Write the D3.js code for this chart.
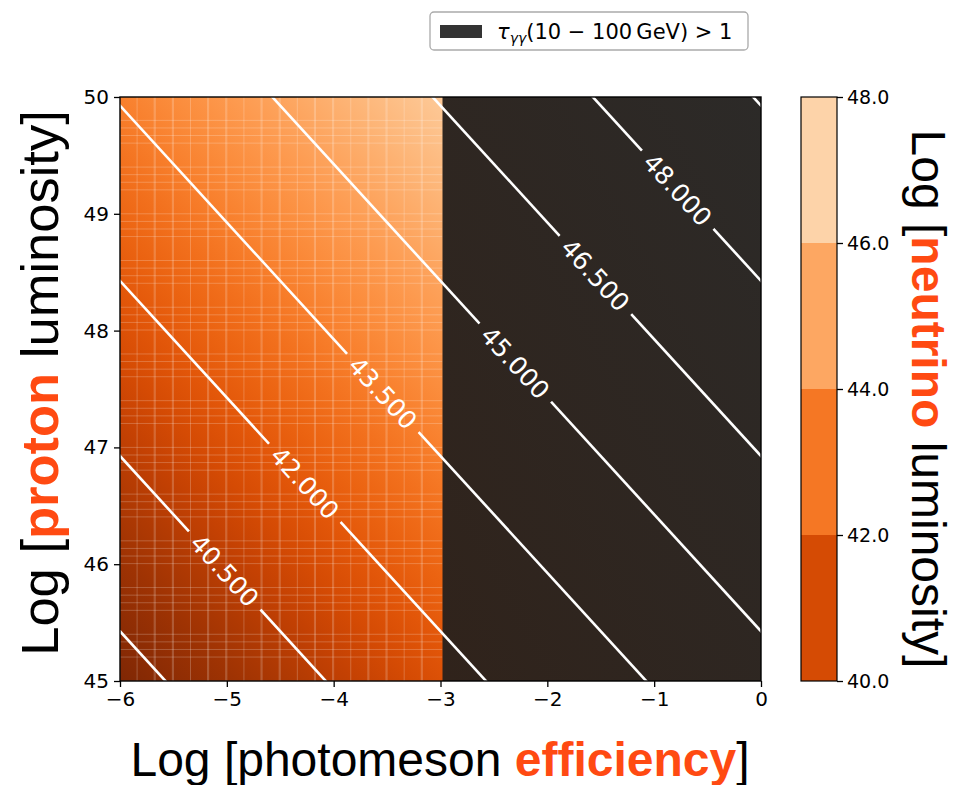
<!DOCTYPE html>
<html><head><meta charset="utf-8">
<script src="https://cdn.jsdelivr.net/npm/d3@7"></script>
<style>body{margin:0;background:#fff}svg{display:block}</style>
</head><body>
<svg id="c" width="959" height="785"></svg>
<script>
// ---- data ----
const xTicks = [-6, -5, -4, -3, -2, -1, 0];
const yTicks = [45, 46, 47, 48, 49, 50];
const cbTicks = [40, 42, 44, 46, 48];
const cbLevels = [40, 42, 44, 46, 48];
const contourLevels = [39, 40.5, 42, 43.5, 45, 46.5, 48, 49.5];
const labelledLevels = [40.5, 42, 43.5, 45, 46.5, 48];
const labelAtX = [-5.02, -4.27, -3.54, -2.30, -1.55, -0.78];
const offsetLog = -0.426;      // log(3/8): L_nu = f * L_p * 3/8
const opaqueFrom = -3;          // tau_gg > 1 for log efficiency > -3
const fieldRange = [38.57, 49.57];

const svg = d3.select("#c");
const L = 120, R = 761, T = 97, B = 681;
const x = d3.scaleLinear().domain([-6, 0]).range([L, R]);
const y = d3.scaleLinear().domain([45, 50]).range([B, T]);
const col = d3.scaleSequential(t => d3.interpolateOranges(1 - t)).domain(fieldRange);
const defs = svg.append("defs");

// field gradient (value depends on x+y)
const grad = defs.append("linearGradient").attr("id", "fg").attr("gradientUnits", "userSpaceOnUse");
const gx = 1 / (x(1) - x(0)), gy = -1 / (y(0) - y(1));
const gn = Math.hypot(gx, gy);
const ux = gx / gn, uy = gy / gn;
const p0 = [x(-6), y(45)];
const v0 = -6 + 45 + offsetLog;
const span = (fieldRange[1] - fieldRange[0]) / gn;
const startShift = (fieldRange[0] - v0) / gn;
grad.attr("x1", p0[0] + ux * startShift).attr("y1", p0[1] + uy * startShift)
    .attr("x2", p0[0] + ux * (startShift + span)).attr("y2", p0[1] + uy * (startShift + span));
d3.range(0, 1.0001, 0.05).forEach(t => {
  grad.append("stop").attr("offset", t).attr("stop-color", col(fieldRange[0] + t * (fieldRange[1] - fieldRange[0])));
});
const dg = defs.append("linearGradient").attr("id", "dg").attr("x1", 1).attr("y1", 0).attr("x2", 0).attr("y2", 1);
dg.append("stop").attr("offset", 0).attr("stop-color", "#2c2a28");
dg.append("stop").attr("offset", 1).attr("stop-color", "#30231b");

defs.append("clipPath").attr("id", "clip").append("rect")
  .attr("x", L).attr("y", T).attr("width", R - L).attr("height", B - T);

const plot = svg.append("g").attr("clip-path", "url(#clip)");
plot.append("rect").attr("x", x(-6)).attr("y", T).attr("width", R - L).attr("height", B - T)
  .attr("fill", "url(#fg)");

// faint mesh edge artefacts
const mesh = plot.append("g").attr("stroke", "#fff").attr("stroke-opacity", 0.22).attr("stroke-width", 1);
const vx = [], hy = [];
for (let i = 0; i < 40; i++) { const p = i * 0.1 + ((i * 7) % 5) * 0.03; if (p < 2.97) vx.push(-6 + p); }
for (let i = 0; i < 60; i++) { const p = i * 0.1 + ((i * 3) % 4) * 0.035; if (p < 5) hy.push(45 + p); }
vx.forEach(v => mesh.append("line").attr("x1", x(v)).attr("x2", x(v)).attr("y1", T).attr("y2", B));
hy.forEach(v => mesh.append("line").attr("x1", L).attr("x2", x(opaqueFrom) + 2).attr("y1", y(v)).attr("y2", y(v)));

plot.append("rect").attr("x", x(opaqueFrom) + 2).attr("y", T).attr("width", R - x(opaqueFrom)).attr("height", B - T)
  .attr("fill", "url(#dg)");

// contour lines with gaps at labels
const ang = Math.atan2(y(0) - y(1), x(1) - x(0)) * 180 / Math.PI;
const mask = defs.append("mask").attr("id", "lm").attr("maskUnits", "userSpaceOnUse")
  .attr("x", 0).attr("y", 0).attr("width", 959).attr("height", 785);
mask.append("rect").attr("width", 959).attr("height", 785).attr("fill", "#fff");
const labs = labelledLevels.map((lv, i) => {
  const xv = labelAtX[i];
  const yv = lv - offsetLog - xv;
  return {lv, px: x(xv), py: y(yv)};
});
labs.forEach(d => {
  mask.append("rect").attr("x", -53).attr("y", -14).attr("width", 106).attr("height", 28).attr("fill", "#000")
    .attr("transform", `translate(${d.px},${d.py}) rotate(${ang})`);
});
const lineG = plot.append("g").attr("mask", "url(#lm)");
contourLevels.forEach(lv => {
  const xa = -6.2, xb = 0.2;
  lineG.append("line")
    .attr("x1", x(xa)).attr("y1", y(lv - offsetLog - xa))
    .attr("x2", x(xb)).attr("y2", y(lv - offsetLog - xb))
    .attr("stroke", "#fff").attr("stroke-width", 2.6);
});
labs.forEach(d => {
  plot.append("text").attr("transform", `translate(${d.px},${d.py}) rotate(${ang})`)
    .attr("text-anchor", "middle").attr("dy", "0.36em")
    .attr("font-family", "DejaVu Sans").attr("font-size", 25).attr("fill", "#fff")
    .text(d3.format(".3f")(d.lv));
});

// frame
svg.append("rect").attr("x", L).attr("y", T).attr("width", R - L).attr("height", B - T)
  .attr("fill", "none").attr("stroke", "#000").attr("stroke-width", 1.4);

// axes
const fmtMinus = d => (d < 0 ? "\u2212" + Math.abs(d) : "" + d);
const ax = svg.append("g").attr("transform", `translate(0,${B})`)
  .call(d3.axisBottom(x).tickValues(xTicks).tickFormat(fmtMinus).tickSize(6).tickPadding(5));
const ay = svg.append("g").attr("transform", `translate(${L},0)`)
  .call(d3.axisLeft(y).tickValues(yTicks).tickFormat(d => d).tickSize(6).tickPadding(5));
[ax, ay].forEach(g => {
  g.select(".domain").remove();
  g.selectAll("line").attr("stroke", "#000").attr("stroke-width", 1.3);
  g.selectAll("text").attr("font-family", "DejaVu Sans").attr("font-size", 20).attr("fill", "#000");
});

// colorbar
const cbL = 801, cbW = 36;
const cy = d3.scaleLinear().domain([40, 48]).range([B, T]);
const cbg = svg.append("g");
d3.pairs(cbLevels).forEach(([a, b]) => {
  const mid = (a + b) / 2;
  cbg.append("rect").attr("x", cbL).attr("y", cy(b)).attr("width", cbW).attr("height", cy(a) - cy(b))
    .attr("fill", d3.interpolateOranges(0.75 - (mid - 41) * 0.087));
});
cbg.append("rect").attr("x", cbL).attr("y", T).attr("width", cbW).attr("height", B - T)
  .attr("fill", "none").attr("stroke", "#000").attr("stroke-width", 1.2);
const ac = svg.append("g").attr("transform", `translate(${cbL + cbW},0)`)
  .call(d3.axisRight(cy).tickValues(cbTicks).tickFormat(d3.format(".1f")).tickSize(6).tickPadding(4));
ac.select(".domain").remove();
ac.selectAll("line").attr("stroke", "#000").attr("stroke-width", 1.3);
ac.selectAll("text").attr("font-family", "DejaVu Sans").attr("font-size", 19).attr("fill", "#000");

// titles
const hi = "#ff4a12";
const yt = svg.append("text").attr("transform", `translate(58,383) rotate(-90)`)
  .attr("text-anchor", "middle").attr("font-family", "Liberation Sans, Arial").attr("font-size", 52.5).attr("fill", "#000");
yt.append("tspan").text("Log [");
yt.append("tspan").attr("font-weight", "bold").attr("fill", hi).text("proton");
yt.append("tspan").text(" luminosity]");

const xt = svg.append("text").attr("transform", `translate(440,776)`)
  .attr("text-anchor", "middle").attr("font-family", "Liberation Sans, Arial").attr("font-size", 48).attr("fill", "#000");
xt.append("tspan").text("Log [photomeson ");
xt.append("tspan").attr("font-weight", "bold").attr("fill", hi).text("efficiency");
xt.append("tspan").text("]");

const rt = svg.append("text").attr("transform", `translate(912,399) rotate(90)`)
  .attr("text-anchor", "middle").attr("font-family", "Liberation Sans, Arial").attr("font-size", 48).attr("fill", "#000");
rt.append("tspan").text("Log [");
rt.append("tspan").attr("font-weight", "bold").attr("fill", hi).text("neutrino");
rt.append("tspan").text(" luminosity]");

// legend
const lg = svg.append("g");
lg.append("rect").attr("x", 430).attr("y", 12).attr("width", 318).attr("height", 38).attr("rx", 4)
  .attr("fill", "#fff").attr("stroke", "#aaa").attr("stroke-width", 1.3);
lg.append("rect").attr("x", 440).attr("y", 25).attr("width", 42).attr("height", 13).attr("fill", "#333");
const lt = lg.append("text").attr("x", 497).attr("y", 39).attr("font-family", "DejaVu Sans").attr("font-size", 21).attr("fill", "#000");
lt.append("tspan").attr("font-style", "italic").text("τ");
lt.append("tspan").attr("font-style", "italic").attr("font-size", 14).attr("dy", 4).text("γγ");
lt.append("tspan").attr("dy", -4).text("(10 \u2212 100\u2009GeV) > 1");
</script>
</body></html>
